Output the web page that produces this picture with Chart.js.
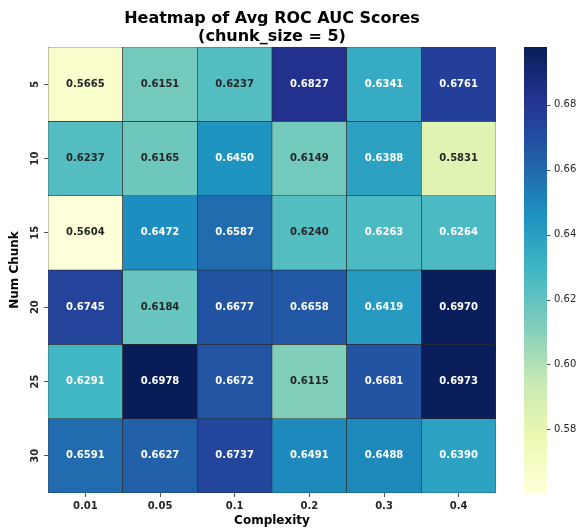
<!DOCTYPE html>
<html>
<head>
<meta charset="utf-8">
<script src="https://cdn.jsdelivr.net/npm/chart.js@4.4.0/dist/chart.umd.min.js"></script>
<style>
  html, body { margin: 0; padding: 0; background: #ffffff; }
  #wrap { width: 579px; height: 531px; }
</style>
</head>
<body>
<div id="wrap"><canvas id="c" width="579" height="531"></canvas></div>
<script>
// Average ROC AUC per (num chunk, complexity), chunk_size = 5
const complexity = ['0.01', '0.05', '0.1', '0.2', '0.3', '0.4'];
const numChunk = ['5', '10', '15', '20', '25', '30'];
const chunk5  = [0.5665, 0.6151, 0.6237, 0.6827, 0.6341, 0.6761];
const chunk10 = [0.6237, 0.6165, 0.6450, 0.6149, 0.6388, 0.5831];
const chunk15 = [0.5604, 0.6472, 0.6587, 0.6240, 0.6263, 0.6264];
const chunk20 = [0.6745, 0.6184, 0.6677, 0.6658, 0.6419, 0.6970];
const chunk25 = [0.6291, 0.6978, 0.6672, 0.6115, 0.6681, 0.6973];
const chunk30 = [0.6591, 0.6627, 0.6737, 0.6491, 0.6488, 0.6390];
const rows = [chunk5, chunk10, chunk15, chunk20, chunk25, chunk30];
const colorbarTicks = [0.58, 0.60, 0.62, 0.64, 0.66, 0.68];
const titleLines = ['Heatmap of Avg ROC AUC Scores', '(chunk_size = 5)'];

// YlGnBu colour ramp
const ylgnbu = ['#ffffd9', '#edf8b1', '#c7e9b4', '#7fcdbb', '#41b6c4', '#1d91c0', '#225ea8', '#253494', '#081d58'];
const rampRGB = ylgnbu.map(h => [1, 3, 5].map(i => parseInt(h.substr(i, 2), 16)));

const allValues = rows.flat();
const vmin = Math.min(...allValues);
const vmax = Math.max(...allValues);

function rampColor(t) {
  t = Math.max(0, Math.min(1, t));
  const pos = t * (rampRGB.length - 1);
  const i = Math.min(Math.floor(pos), rampRGB.length - 2);
  const f = pos - i;
  return rampRGB[i].map((c, k) => Math.round(c + (rampRGB[i + 1][k] - c) * f));
}
function colorFor(v) {
  const c = rampColor((v - vmin) / (vmax - vmin));
  return `rgb(${c[0]},${c[1]},${c[2]})`;
}
function textColorFor(v) {
  const c = rampColor((v - vmin) / (vmax - vmin)).map(x => {
    x /= 255;
    return x <= 0.03928 ? x / 12.92 : Math.pow((x + 0.055) / 1.055, 2.4);
  });
  const lum = 0.2126 * c[0] + 0.7152 * c[1] + 0.0722 * c[2];
  return lum > 0.408 ? '#262626' : '#ffffff';
}

// One floating-bar dataset per row, each bar spans one row band
const datasets = rows.map((vals, r) => ({
  label: numChunk[r],
  data: vals.map(() => [r, r + 1]),
  values: vals,
  backgroundColor: vals.map(colorFor),
  borderColor: '#2b2b2b',
  borderWidth: 0.6,
  borderSkipped: false,
  grouped: false,
  barPercentage: 1,
  categoryPercentage: 1
}));

const cellLabels = {
  id: 'cellLabels',
  afterDatasetsDraw(chart) {
    const ctx = chart.ctx;
    ctx.save();
    ctx.font = 'bold 10px "DejaVu Sans"';
    ctx.textAlign = 'center';
    ctx.textBaseline = 'middle';
    chart.data.datasets.forEach((ds, di) => {
      chart.getDatasetMeta(di).data.forEach((el, i) => {
        const v = ds.values[i];
        ctx.fillStyle = textColorFor(v);
        ctx.fillText(v.toFixed(4), el.x, (el.y + el.base) / 2);
      });
    });
    ctx.restore();
  }
};

// Title centred over the heatmap cells
const heatTitle = {
  id: 'heatTitle',
  afterDraw(chart) {
    const { ctx, chartArea } = chart;
    const cx = (chartArea.left + chartArea.right) / 2;
    ctx.save();
    ctx.font = 'bold 16px "DejaVu Sans"';
    ctx.fillStyle = '#000000';
    ctx.textAlign = 'center';
    ctx.textBaseline = 'middle';
    ctx.fillText(titleLines[0], cx, chartArea.top - 28);
    ctx.fillText(titleLines[1], cx, chartArea.top - 10);
    ctx.restore();
  }
};

const colorbar = {
  id: 'colorbar',
  afterDraw(chart) {
    const s = chart.scales.cb;
    const ctx = chart.ctx;
    const x0 = s.left + 28, w = 23;
    const yTop = s.getPixelForValue(vmax);
    const yBot = s.getPixelForValue(vmin);
    const g = ctx.createLinearGradient(0, yBot, 0, yTop);
    ylgnbu.forEach((c, i) => g.addColorStop(i / (ylgnbu.length - 1), c));
    ctx.save();
    ctx.fillStyle = g;
    ctx.fillRect(x0, yTop, w, yBot - yTop);
    ctx.strokeStyle = '#262626';
    ctx.lineWidth = 0.8;
    s.ticks.forEach(t => {
      const y = Math.round(s.getPixelForValue(t.value)) + 0.5;
      ctx.beginPath();
      ctx.moveTo(x0 + w, y);
      ctx.lineTo(x0 + w + 3.5, y);
      ctx.stroke();
    });
    ctx.restore();
  }
};

new Chart(document.getElementById('c'), {
  type: 'bar',
  data: { labels: complexity, datasets },
  plugins: [cellLabels, heatTitle, colorbar],
  options: {
    responsive: false,
    animation: false,
    layout: { padding: { top: 47 } },
    plugins: {
      legend: { display: false },
      tooltip: { enabled: false },
      title: { display: false }
    },
    scales: {
      x: {
        type: 'category',
        offset: true,
        grid: { display: true, drawOnChartArea: false, offset: false, tickLength: 4, tickColor: '#262626', tickWidth: 0.8 },
        border: { display: false },
        ticks: { color: '#262626', font: { family: 'DejaVu Sans', size: 10, weight: 'bold' }, padding: 3, maxRotation: 0 },
        title: {
          display: true, text: 'Complexity', color: '#000000',
          font: { family: 'DejaVu Sans', size: 12, weight: 'bold' },
          padding: { top: 0, bottom: 3 }
        },
        afterFit(axis) { axis.height = 38; }
      },
      y: {
        type: 'linear',
        min: 0,
        max: rows.length,
        reverse: true,
        afterBuildTicks(axis) { axis.ticks = numChunk.map((_, i) => ({ value: i + 0.5 })); },
        grid: { display: true, drawOnChartArea: false, tickLength: 4, tickColor: '#262626', tickWidth: 0.8 },
        border: { display: false },
        ticks: {
          color: '#262626',
          font: { family: 'DejaVu Sans', size: 10, weight: 'bold' },
          minRotation: 90, maxRotation: 90,
          crossAlign: 'center',
          padding: 2,
          callback: (v, i) => numChunk[i]
        },
        title: {
          display: true, text: 'Num Chunk', color: '#000000',
          font: { family: 'DejaVu Sans', size: 12, weight: 'bold' },
          padding: { top: 8, bottom: 0 }
        },
        afterFit(axis) { axis.width = 48; }
      },
      cb: {
        type: 'linear',
        position: 'right',
        min: vmin,
        max: vmax,
        afterBuildTicks(axis) { axis.ticks = colorbarTicks.map(v => ({ value: v })); },
        grid: { display: true, drawOnChartArea: false, tickLength: 56, tickColor: 'rgba(0,0,0,0)' },
        border: { display: false },
        ticks: {
          color: '#262626',
          font: { family: 'DejaVu Sans', size: 10 },
          padding: 2,
          callback: v => v.toFixed(2)
        },
        afterFit(axis) { axis.width = 83; }
      }
    }
  }
});
</script>
</body>
</html>
